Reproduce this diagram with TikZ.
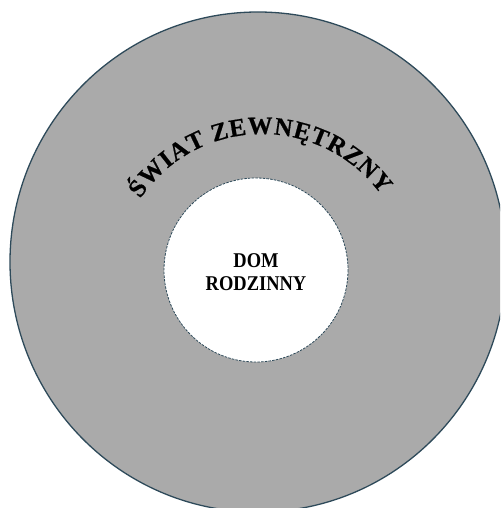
\documentclass[tikz,border=0pt]{standalone}
\usepackage{fontspec}
\setmainfont{Liberation Serif}
\newfontfamily\narrowserif{Liberation Serif}[FakeStretch=0.88]
\newfontfamily\arcserif{Liberation Serif Bold}[FakeBold=0.6]
\usetikzlibrary{decorations.text}
\definecolor{rimcol}{RGB}{46,74,90}
\definecolor{worldgray}{RGB}{170,170,170}
\tikzset{
  world/.style={fill=worldgray, draw=rimcol, line width=1.3pt},
  home/.style={fill=white, draw=rimcol, line width=0.8pt, dash pattern=on 2.5pt off 1.2pt},
  label/.style={font=\narrowserif\bfseries\fontsize{21}{23}\selectfont, align=center, text=black}
}
\begin{document}
\begin{tikzpicture}[x=1pt,y=-1pt]
  \useasboundingbox (0,0) rectangle (500,508);
  \clip (0,0) rectangle (500,508);
  \draw[world] (258,262) ellipse [x radius=248, y radius=250];
  \draw[home] (256,270) circle [radius=92];
  \node[label] (dom) at (256,272) {DOM\\RODZINNY};
  \path[decorate, decoration={text along path, text align={fit to path},
      text={|\arcserif\fontsize{25}{25}\selectfont|ŚWIAT ZEWNĘTRZNY}}]
      (262,281) ++(-146:147) arc[start angle=-146, end angle=-36, radius=147];
\end{tikzpicture}
\end{document}
